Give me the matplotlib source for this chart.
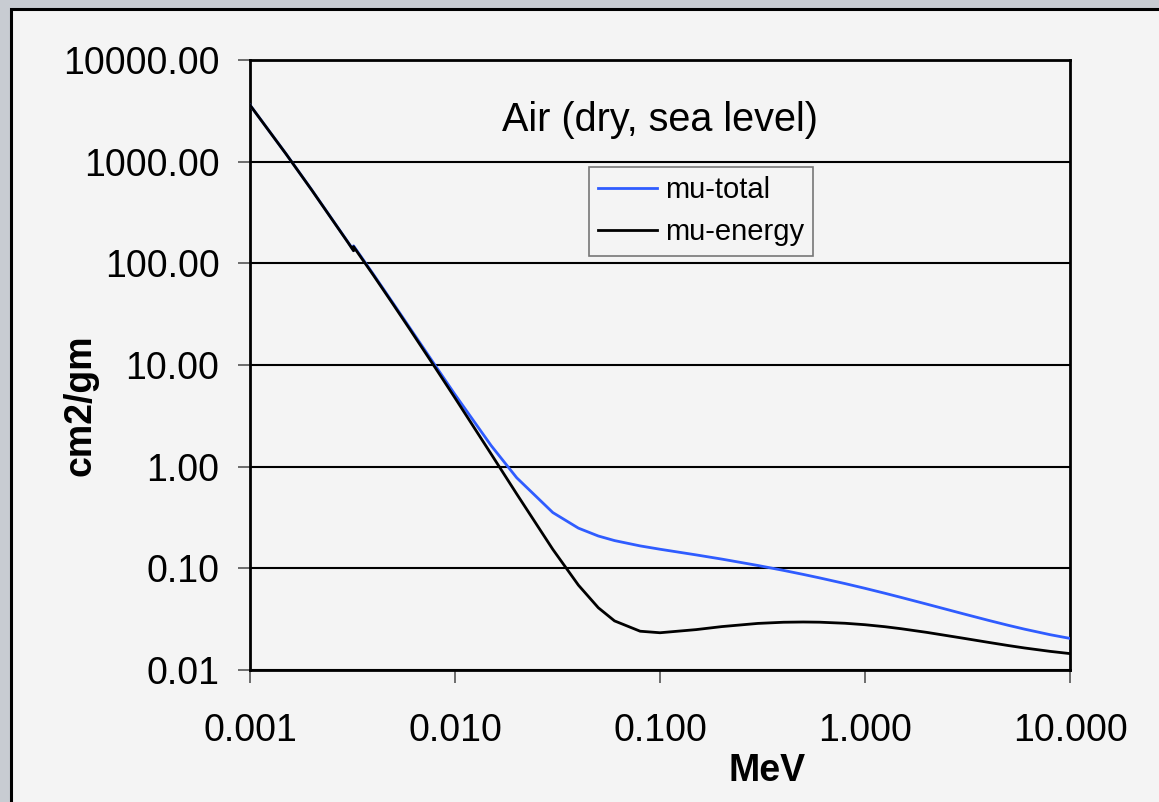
import matplotlib
matplotlib.use("Agg")
import matplotlib.pyplot as plt
from matplotlib.ticker import FixedLocator, FixedFormatter, NullLocator
from matplotlib.patches import Rectangle

plt.rcParams['font.family'] = ['Liberation Sans', 'DejaVu Sans']

energy_mev = [1.0e-3, 1.5e-3, 2.0e-3, 3.0e-3, 3.2e-3, 3.2e-3, 4.0e-3, 5.0e-3, 6.0e-3,
              8.0e-3, 1.0e-2, 1.5e-2, 2.0e-2, 3.0e-2, 4.0e-2, 5.0e-2, 6.0e-2, 8.0e-2,
              1.0e-1, 1.5e-1, 2.0e-1, 3.0e-1, 4.0e-1, 5.0e-1, 6.0e-1, 8.0e-1, 1.0,
              1.25, 1.5, 2.0, 3.0, 4.0, 5.0, 6.0, 8.0, 10.0]
mu_total = [3606, 1191, 527.9, 162.5, 134.0, 148.5, 77.88, 40.27, 23.41,
            9.921, 5.120, 1.614, 0.7779, 0.3538, 0.2485, 0.2080, 0.1875, 0.1662,
            0.1541, 0.1356, 0.1233, 0.1067, 0.09549, 0.08712, 0.08055, 0.07074, 0.06358,
            0.05687, 0.05175, 0.04447, 0.03581, 0.03079, 0.02751, 0.02522, 0.02225, 0.02045]
mu_energy = [3599, 1188, 526.2, 161.4, 133.0, 146.0, 76.36, 39.31, 22.70,
             9.446, 4.742, 1.334, 0.5389, 0.1537, 0.06833, 0.04098, 0.03041, 0.02407,
             0.02325, 0.02496, 0.02672, 0.02872, 0.02949, 0.02966, 0.02953, 0.02882, 0.02789,
             0.02666, 0.02547, 0.02345, 0.02057, 0.01870, 0.01740, 0.01647, 0.01525, 0.01450]

x_ticks = [0.001, 0.01, 0.1, 1.0, 10.0]
x_tick_labels = ["0.001", "0.010", "0.100", "1.000", "10.000"]
y_ticks = [0.01, 0.1, 1, 10, 100, 1000, 10000]
y_tick_labels = ["0.01", "0.10", "1.00", "10.00", "100.00", "1000.00", "10000.00"]

W, H = 1159, 802
fig = plt.figure(figsize=(W / 100, H / 100), dpi=100)
fig.patch.set_facecolor('#c8ccd2')

# inner frame
frame = Rectangle((11 / W, -0.2), 1.2, 1.2 - 9 / H, transform=fig.transFigure,
                  facecolor='#f4f4f4', edgecolor='black', linewidth=2.2, zorder=-10)
fig.patches.append(frame)

ax = fig.add_axes([250 / W, 1 - 670 / H, 820 / W, 610 / H])
ax.set_zorder(5)
ax.set_facecolor('#f4f4f4')
ax.set_xscale('log')
ax.set_yscale('log')
ax.set_xlim(0.001, 10)
ax.set_ylim(0.01, 10000)

ax.plot(energy_mev, mu_total, color='#2f5cff', lw=2.0, label='mu-total', zorder=3)
ax.plot(energy_mev, mu_energy, color='black', lw=2.0, label='mu-energy', zorder=4)

ax.xaxis.set_major_locator(FixedLocator(x_ticks))
ax.xaxis.set_major_formatter(FixedFormatter(x_tick_labels))
ax.xaxis.set_minor_locator(NullLocator())
ax.yaxis.set_major_locator(FixedLocator(y_ticks))
ax.yaxis.set_major_formatter(FixedFormatter(y_tick_labels))
ax.yaxis.set_minor_locator(NullLocator())

ax.tick_params(axis='both', direction='out', length=9, width=1.2, color='#555555',
               labelsize=27, labelcolor='black')
ax.tick_params(axis='y', pad=13)
ax.tick_params(axis='x', pad=22)

ax.grid(axis='y', which='major', color='black', lw=1.5)
ax.set_axisbelow(True)
for s in ax.spines.values():
    s.set_color('black')
    s.set_linewidth(2.0)

ax.set_xlabel('MeV', fontsize=27, fontweight='bold')
ax.set_ylabel('cm2/gm', fontsize=27, fontweight='bold')
ax.xaxis.set_label_coords((767 - 250) / 820, (670 - 771) / 610)
ax.xaxis.label.set_va('center')
ax.yaxis.set_label_coords((80 - 250) / 820, (670 - 405) / 610)
ax.yaxis.label.set_va('center')

ax.text(0.5, 0.902, 'Air (dry, sea level)', transform=ax.transAxes,
        ha='center', va='center', fontsize=28.5)

leg = ax.legend(loc='upper left', bbox_to_anchor=(0.4134, 0.8246), fontsize=21,
                frameon=True, fancybox=False, framealpha=1, facecolor='#f4f4f4',
                edgecolor='#777777', handlelength=2.0, handletextpad=0.28,
                borderpad=0.32, labelspacing=0.48, borderaxespad=0)
leg.get_frame().set_linewidth(1.2)

fig.savefig('out.png', dpi=100, facecolor=fig.get_facecolor())
